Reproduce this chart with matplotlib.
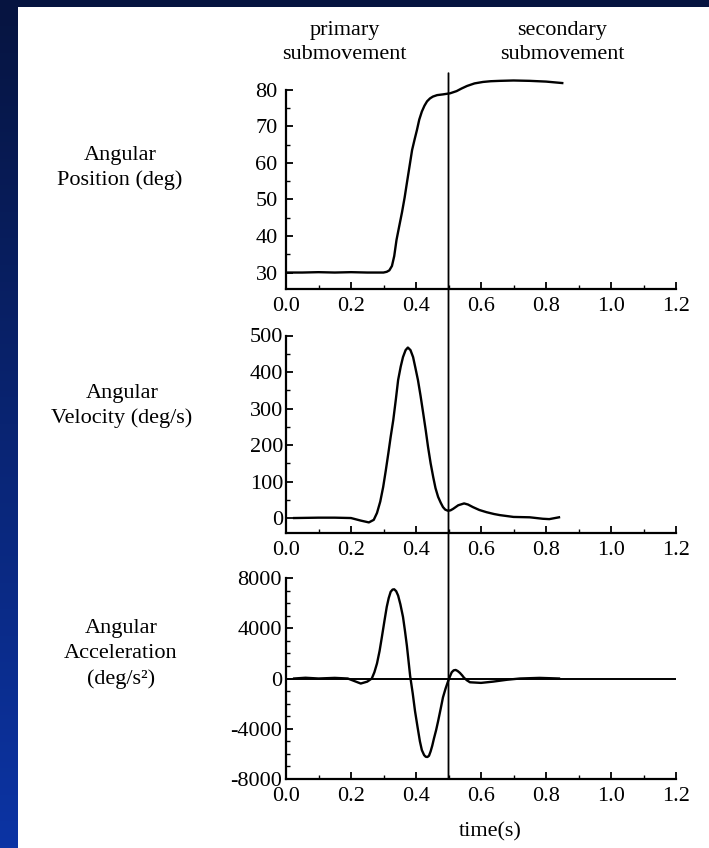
import numpy as np
import matplotlib.pyplot as plt
from matplotlib.patches import Rectangle, ConnectionPatch
from matplotlib.colors import LinearSegmentedColormap
from matplotlib.ticker import MultipleLocator

plt.rcParams['font.family'] = ['Liberation Serif', 'DejaVu Serif']
plt.rcParams['font.size'] = 16
plt.rcParams['axes.unicode_minus'] = False

# values
pos_t = [0.00, 0.05, 0.10, 0.15, 0.20, 0.25, 0.30, 0.31, 0.318, 0.326, 0.333, 0.34,
         0.348, 0.357, 0.365, 0.372, 0.380, 0.388, 0.396, 0.403, 0.41, 0.418,
         0.426, 0.434, 0.443, 0.452, 0.465, 0.483, 0.505, 0.525, 0.54, 0.557,
         0.58, 0.606, 0.63, 0.658, 0.70, 0.75, 0.80, 0.85]
pos_deg = [30.0, 30.0, 30.1, 30.0, 30.1, 30.0, 30.0, 30.2, 30.6, 31.8, 34.5, 38.9,
           42.5, 46.5, 50.5, 54.5, 59.0, 63.5, 66.5, 69.0, 71.8, 74.0,
           75.6, 76.8, 77.6, 78.1, 78.5, 78.7, 79.0, 79.6, 80.3, 81.0,
           81.7, 82.1, 82.3, 82.4, 82.5, 82.4, 82.2, 81.8]

vel_t = [0.025, 0.10, 0.15, 0.20, 0.23, 0.255, 0.27, 0.28, 0.29, 0.299, 0.307, 0.315,
         0.322, 0.33, 0.338, 0.345, 0.353, 0.36, 0.368, 0.375, 0.383, 0.391,
         0.398, 0.406, 0.414, 0.422, 0.43, 0.437, 0.445, 0.453, 0.46, 0.468,
         0.476, 0.483, 0.49, 0.498, 0.506, 0.514, 0.53, 0.548, 0.56, 0.575,
         0.595, 0.617, 0.64, 0.658, 0.70, 0.75, 0.79, 0.81, 0.84]
vel_deg = [0, 1, 1, 0, -7, -12, -5, 14, 45, 85, 130, 178,
           222, 268, 325, 378, 415, 441, 460, 467, 460, 441,
           412, 378, 335, 288, 240, 195, 150, 112, 82, 58,
           42, 30, 23, 20, 21, 25, 35, 40, 37, 30,
           22, 16, 11, 8, 3, 2, -2, -3, 2]

acc_t = [0.025, 0.06, 0.10, 0.15, 0.19, 0.21, 0.23, 0.25, 0.264, 0.272, 0.28, 0.288,
         0.295, 0.303, 0.31, 0.316, 0.322, 0.328, 0.333, 0.339, 0.345, 0.352,
         0.36, 0.366, 0.372, 0.377, 0.382, 0.39, 0.397, 0.405, 0.412, 0.418,
         0.425, 0.43, 0.435, 0.44, 0.445, 0.45, 0.455, 0.462, 0.468, 0.476,
         0.483, 0.491, 0.499, 0.505, 0.51, 0.516, 0.522, 0.528, 0.535, 0.542,
         0.548, 0.557, 0.566, 0.60, 0.637, 0.68, 0.72, 0.78, 0.84]
acc_deg = [0, 60, 0, 50, 0, -200, -400, -250, 0, 500, 1200, 2200,
           3300, 4600, 5700, 6400, 6900, 7080, 7100, 6950, 6600, 5900,
           4900, 3800, 2600, 1400, 200, -1200, -2600, -3900, -5000, -5700,
           -6100, -6230, -6250, -6150, -5800, -5350, -4800, -4100, -3400, -2400,
           -1500, -800, -200, 200, 500, 650, 680, 600, 450, 250,
           50, -150, -300, -350, -250, -100, 0, 50, 0]

split_time = 0.5
x_ticks = [0.0, 0.2, 0.4, 0.6, 0.8, 1.0, 1.2]
pos_ticks = [30, 40, 50, 60, 70, 80]
vel_ticks = [0, 100, 200, 300, 400, 500]
acc_ticks = [-8000, -4000, 0, 4000, 8000]

W, H = 709, 848
fig = plt.figure(figsize=(W / 100, H / 100), dpi=100)

# navy slide background with white page
bg = fig.add_axes([0, 0, 1, 1], zorder=-2)
navy = LinearSegmentedColormap.from_list('navy', ['#0c34a4', '#061440'])
bg.imshow(np.linspace(0, 1, 256).reshape(-1, 1)[::-1], aspect='auto', cmap=navy,
          extent=[0, 1, 0, 1])
bg.axis('off')
fig.patches.append(Rectangle((18 / W, 0), 1, (H - 7) / H, transform=fig.transFigure,
                             facecolor='white', edgecolor='none', zorder=-1))

left = 286 / W
width = 390 / W
ax1 = fig.add_axes([left, (H - 289) / H, width, 214 / H])
ax2 = fig.add_axes([left, (H - 533) / H, width, 197.5 / H])
ax3 = fig.add_axes([left, (H - 779) / H, width, 201 / H])

ax1.plot(pos_t, pos_deg, color='black', lw=1.7)
ax2.plot(vel_t, vel_deg, color='black', lw=1.7)
ax3.plot(acc_t, acc_deg, color='black', lw=1.7)
ax3.axhline(0, color='black', lw=1.4)

ax1.set_ylim(25.5, 84)
ax2.set_ylim(-41, 500)
ax3.set_ylim(-8000, 8000)
ax1.set_yticks(pos_ticks)
ax2.set_yticks(vel_ticks)
ax3.set_yticks(acc_ticks)
ax1.yaxis.set_minor_locator(MultipleLocator(5))
ax2.yaxis.set_minor_locator(MultipleLocator(50))
ax3.yaxis.set_minor_locator(MultipleLocator(1000))
ax1.spines['left'].set_bounds(25.5, 80)

for ax in (ax1, ax2, ax3):
    ax.set_facecolor('none')
    ax.set_xlim(0, 1.2)
    ax.set_xticks(x_ticks)
    ax.set_xticklabels([f'{v:.1f}' for v in x_ticks])
    ax.xaxis.set_minor_locator(MultipleLocator(0.1))
    for s in ('top', 'right'):
        ax.spines[s].set_visible(False)
    for s in ('left', 'bottom'):
        ax.spines[s].set_linewidth(1.6)
    ax.tick_params(which='major', direction='in', length=5, width=1.3, labelsize=16)
    ax.tick_params(which='minor', direction='in', length=3, width=1.0)
    ax.tick_params(axis='x', pad=6)
    ax.tick_params(axis='y', pad=6)
ax2.tick_params(axis='y', pad=2)
ax3.tick_params(axis='y', pad=3)

# boundary between the primary and secondary submovements
con = ConnectionPatch(xyA=(split_time, 84.5), coordsA=ax1.transData,
                      xyB=(split_time, -8000), coordsB=ax3.transData,
                      color='black', lw=1.3)
fig.add_artist(con)

ax1.text(0.18, 1.152, 'primary\nsubmovement', transform=ax1.get_xaxis_transform(),
         ha='center', va='center', fontsize=16, linespacing=1.4)
ax1.text(0.85, 1.152, 'secondary\nsubmovement', transform=ax1.get_xaxis_transform(),
         ha='center', va='center', fontsize=16, linespacing=1.4)

fig.text(120 / W, 1 - 168 / H, 'Angular\nPosition (deg)', ha='center', va='center',
         fontsize=16, linespacing=1.4)
fig.text(122 / W, 1 - 406 / H, 'Angular\nVelocity (deg/s)', ha='center', va='center',
         fontsize=16, linespacing=1.4)
fig.text(121 / W, 1 - 654 / H, 'Angular\nAcceleration\n(deg/s²)', ha='center',
         va='center', fontsize=16, linespacing=1.4)

ax3.set_xlabel('time(s)', fontsize=16, va='center')
ax3.xaxis.set_label_coords(0.628 / 1.2, -0.264)

fig.savefig('out.png', dpi=100)
